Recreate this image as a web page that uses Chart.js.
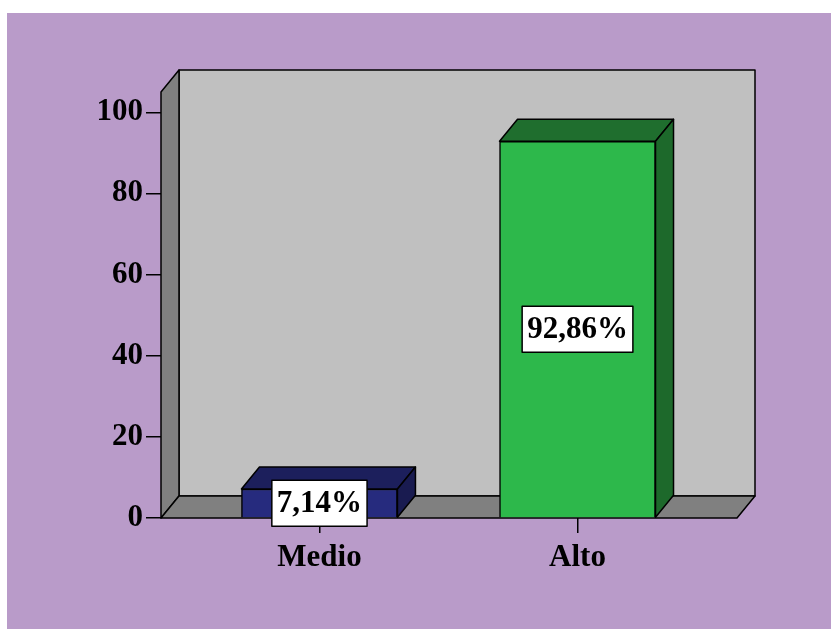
<!DOCTYPE html>
<html>
<head>
<meta charset="utf-8">
<script src="https://cdn.jsdelivr.net/npm/chart.js@4/dist/chart.umd.min.js"></script>
<style>
  html, body { margin: 0; padding: 0; background: #fff; }
  canvas { display: block; }
</style>
</head>
<body>
<canvas id="nivelChart" width="831" height="629"></canvas>
<script>
// bar values (%), one per category
const categories = ['Medio', 'Alto'];
const percentages = [7.14, 92.86];
const yTicks = [0, 20, 40, 60, 80, 100];

const frontColors = ['#262B7E', '#2DB84B'];
const topColors = ['#1C1F5C', '#1F6E2E'];
const sideColors = ['#191B50', '#1D692B'];

const depth = { dx: 18, dy: -22 };
const labelFont = 'bold 31px "Liberation Serif", "Times New Roman", serif';

function poly(ctx, pts, fill) {
    ctx.beginPath();
    ctx.moveTo(pts[0][0], pts[0][1]);
    for (let i = 1; i < pts.length; i++) ctx.lineTo(pts[i][0], pts[i][1]);
    ctx.closePath();
    ctx.fillStyle = fill;
    ctx.fill();
    ctx.stroke();
}

// purple panel + 3d box behind the bars
const boxPlugin = {
    id: 'box3d',
    beforeDraw(chart) {
        const ctx = chart.ctx;
        ctx.save();
        ctx.fillStyle = '#fff';
        ctx.fillRect(0, 0, chart.width, chart.height);
        ctx.fillStyle = '#B99BC9';
        ctx.fillRect(7, 13, chart.width - 7, chart.height - 13);
        ctx.restore();
    },
    beforeDatasetsDraw(chart) {
        const { left, right, top, bottom } = chart.chartArea;
        const { dx, dy } = depth;
        const ctx = chart.ctx;
        ctx.save();
        ctx.strokeStyle = '#000';
        ctx.lineWidth = 1.5;
        ctx.lineJoin = 'round';
        poly(ctx, [[left + dx, top + dy], [right + dx, top + dy], [right + dx, bottom + dy], [left + dx, bottom + dy]], '#C0C0C0');
        poly(ctx, [[left, bottom], [left, top], [left + dx, top + dy], [left + dx, bottom + dy]], '#808080');
        poly(ctx, [[left, bottom], [left + dx, bottom + dy], [right + dx, bottom + dy], [right, bottom]], '#808080');
        ctx.restore();
    },
    afterDatasetsDraw(chart) {
        const ctx = chart.ctx;
        const { dx, dy } = depth;
        const meta = chart.getDatasetMeta(0);
        ctx.save();
        ctx.strokeStyle = '#000';
        ctx.lineWidth = 1.5;
        ctx.lineJoin = 'round';
        meta.data.forEach((bar, i) => {
            const { x, y, base, width } = bar.getProps(['x', 'y', 'base', 'width'], true);
            const l = x - width / 2, r = x + width / 2;
            poly(ctx, [[l, y], [l + dx, y + dy], [r + dx, y + dy], [r, y]], topColors[i]);
            poly(ctx, [[r, y], [r + dx, y + dy], [r + dx, base + dy], [r, base]], sideColors[i]);
        });
        // value boxes
        ctx.font = labelFont;
        ctx.textAlign = 'center';
        ctx.textBaseline = 'middle';
        meta.data.forEach((bar, i) => {
            const { x, y, base } = bar.getProps(['x', 'y', 'base'], true);
            const txt = percentages[i].toFixed(2).replace('.', ',') + '%';
            const w = ctx.measureText(txt).width + 10;
            const h = 46;
            const cy = (y + base) / 2;
            ctx.fillStyle = '#fff';
            ctx.fillRect(x - w / 2, cy - h / 2, w, h);
            ctx.strokeRect(x - w / 2, cy - h / 2, w, h);
            ctx.fillStyle = '#000';
            ctx.fillText(txt, x, cy + 1);
        });
        ctx.restore();
    }
};

const ctx = document.getElementById('nivelChart').getContext('2d');

new Chart(ctx, {
    type: 'bar',
    data: {
        datasets: [{
            data: percentages.map((v, i) => ({ x: i, y: v })),
            backgroundColor: frontColors,
            borderColor: '#000',
            borderWidth: 1.5,
            barThickness: 156
        }]
    },
    options: {
        responsive: false,
        animation: false,
        devicePixelRatio: 1,
        layout: { padding: { left: 0, right: 94, top: 92, bottom: 0 } },
        plugins: {
            legend: { display: false },
            tooltip: { enabled: false }
        },
        scales: {
            x: {
                type: 'linear',
                offset: false,
                min: -0.614,
                max: 1.618,
                afterBuildTicks: (s) => { s.ticks = categories.map((c, i) => ({ value: i })); },
                afterFit: (s) => { s.height = 111; },
                border: { display: false },
                grid: { offset: false, drawOnChartArea: false, drawTicks: true, tickLength: 15, color: '#000', lineWidth: 1.5 },
                ticks: {
                    padding: 6,
                    color: '#000',
                    font: { family: '"Liberation Serif", "Times New Roman", serif', size: 31, weight: 'bold' },
                    callback: (v) => categories[v]
                }
            },
            y: {
                min: 0,
                max: 105,
                afterBuildTicks: (s) => { s.ticks = yTicks.map(v => ({ value: v })); },
                afterFit: (s) => { s.width = 161; },
                border: { display: false },
                grid: { drawOnChartArea: false, drawTicks: true, tickLength: 15, color: '#000', lineWidth: 1.5 },
                ticks: {
                    padding: 3,
                    color: '#000',
                    font: { family: '"Liberation Serif", "Times New Roman", serif', size: 31, weight: 'bold' }
                }
            }
        }
    },
    plugins: [boxPlugin]
});
</script>
</body>
</html>
